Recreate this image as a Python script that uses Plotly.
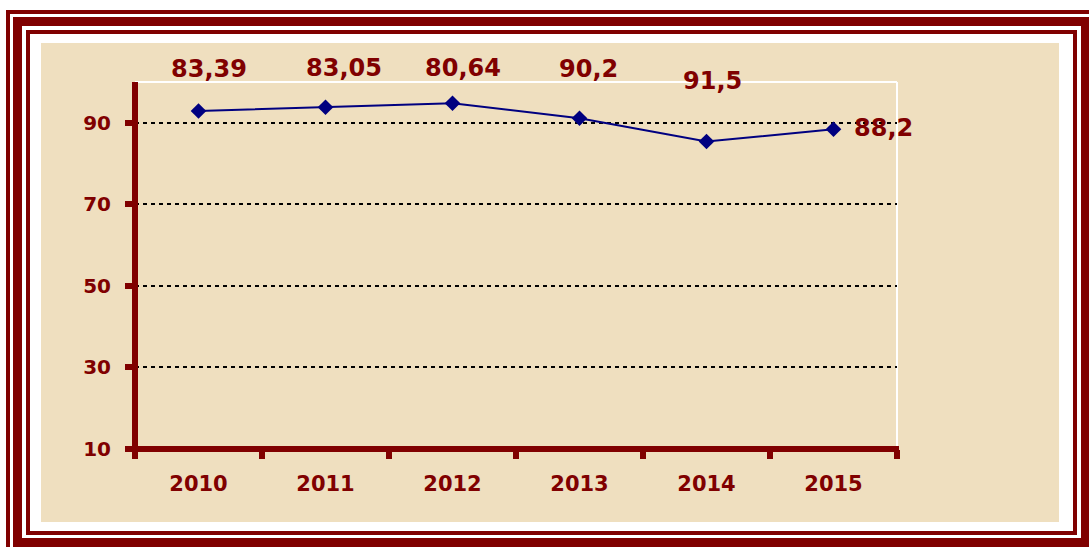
import plotly.graph_objects as go

# ---- data ----
years = ["2010", "2011", "2012", "2013", "2014", "2015"]
values = [92.9, 93.8, 94.8, 91.1, 85.4, 88.4]
label_texts = ["83,39", "83,05", "80,64", "90,2", "91,5", "88,2"]
y_ticks = [10, 30, 50, 70, 90]

# ---- styling / label placement (pixels relative to each point) ----
label_dx = [10, 18, 10, 9, 6, 50]
label_dy = [42, 39, 35, 49, 61, 1]

W, H = 1089, 547
L, R, T, B = 135, 897, 82, 449  # plot area in pixels
MAROON = "#800000"
PARCH = "#EFDFBF"
FONT = "DejaVu Sans"


def px_x(p):
    return (p - L) / (R - L)


def px_y(p):
    return (B - p) / (B - T)


fig = go.Figure()
fig.add_trace(go.Scatter(
    x=years, y=values, mode="lines+markers",
    line=dict(color="#000080", width=2),
    marker=dict(symbol="diamond", size=12, color="#000080"),
    hoverinfo="x+y", showlegend=False,
))

shapes = []


def rect(x0, y0, x1, y1, color):
    shapes.append(dict(type="rect", xref="paper", yref="paper",
                       x0=px_x(x0), x1=px_x(x1), y0=px_y(y1), y1=px_y(y0),
                       fillcolor=color, line=dict(width=0), layer="below"))


# frame: nested rectangles
rect(6, 10, 1110, 570, MAROON)
rect(10, 14, 1110, 570, "white")
rect(13, 17, 1090, 547, MAROON)
rect(22, 26, 1081, 538, "white")
rect(26, 30, 1077, 535, MAROON)
rect(30, 34, 1073, 531, "white")
rect(41, 43, 1059, 522, PARCH)

# plot area white border (top & right)
shapes.append(dict(type="line", xref="paper", yref="paper", x0=0, x1=1, y0=1, y1=1,
                   line=dict(color="white", width=2), layer="below"))
shapes.append(dict(type="line", xref="paper", yref="paper", x0=1, x1=1, y0=0, y1=1,
                   line=dict(color="white", width=2), layer="below"))

# thick maroon axis lines centred on the plot-area edges
shapes.append(dict(type="line", xref="paper", yref="paper", x0=0, x1=0,
                   y0=px_y(452), y1=1, line=dict(color=MAROON, width=6), layer="above"))
shapes.append(dict(type="line", xref="paper", yref="paper", x0=px_x(132), x1=px_x(899),
                   y0=0, y1=0, line=dict(color=MAROON, width=6), layer="above"))

annotations = []
for i, (v, t, dx, dy) in enumerate(zip(values, label_texts, label_dx, label_dy)):
    annotations.append(dict(
        x=i, y=v, xref="x", yref="y", text=t, showarrow=False,
        xshift=dx, yshift=dy,
        font=dict(family=FONT, size=24, color=MAROON, weight="bold"),
    ))

fig.update_layout(
    width=W, height=H,
    margin=dict(l=L, r=W - R, t=T, b=H - B, pad=0),
    paper_bgcolor="white",
    plot_bgcolor="rgba(0,0,0,0)",
    shapes=shapes,
    annotations=annotations,
    showlegend=False,
    xaxis=dict(
        type="category", range=[-0.5, 5.5],
        showline=False,
        ticks="outside", tickson="boundaries", ticklen=9, tickwidth=6, tickcolor=MAROON,
        ticklabelstandoff=20,
        tickfont=dict(family=FONT, size=21, color=MAROON, weight="bold"),
        showgrid=False, zeroline=False,
    ),
    yaxis=dict(
        range=[10, 100], tickvals=y_ticks,
        showline=False,
        ticks="outside", ticklen=9, tickwidth=6, tickcolor=MAROON,
        ticklabelstandoff=10,
        tickfont=dict(family=FONT, size=20, color=MAROON, weight="bold"),
        showgrid=True, gridcolor="black", gridwidth=1.5, griddash="4px,4px",
        zeroline=False,
    ),
)

fig.write_html("out.html", config={"displayModeBar": False},
               post_script="document.body.style.margin='0px';")
